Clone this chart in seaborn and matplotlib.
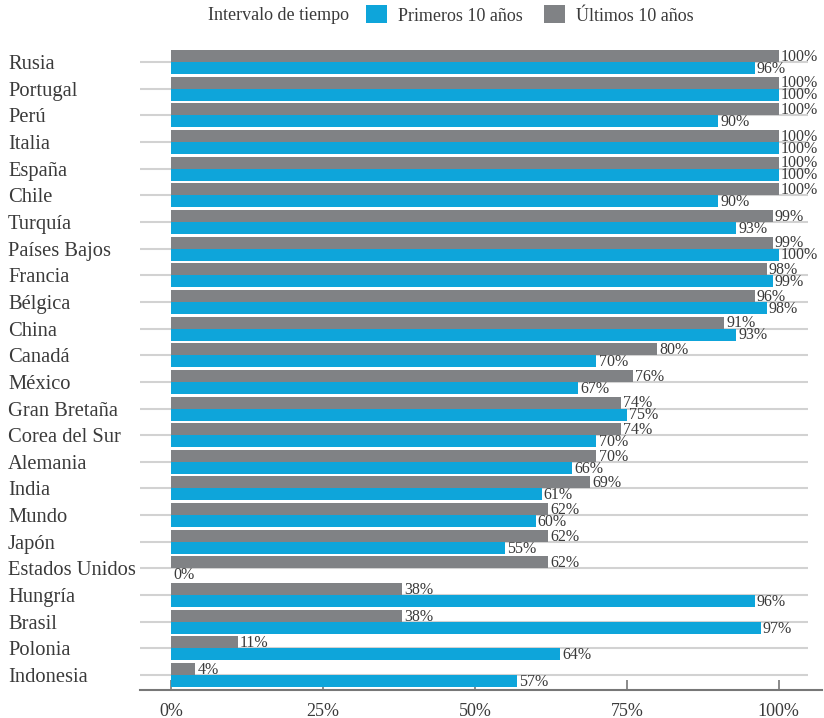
import matplotlib
matplotlib.use("Agg")
import matplotlib.pyplot as plt
import seaborn as sns
import pandas as pd
import numpy as np
from matplotlib.patches import Patch

countries = ["Rusia", "Portugal", "Perú", "Italia", "España", "Chile", "Turquía",
             "Países Bajos", "Francia", "Bélgica", "China", "Canadá", "México",
             "Gran Bretaña", "Corea del Sur", "Alemania", "India", "Mundo", "Japón",
             "Estados Unidos", "Hungría", "Brasil", "Polonia", "Indonesia"]
ultimos = [100, 100, 100, 100, 100, 100, 99, 99, 98, 96, 91, 80, 76, 74, 74, 70,
           69, 62, 62, 62, 38, 38, 11, 4]
primeros = [96, 100, 90, 100, 100, 90, 93, 100, 99, 98, 93, 70, 67, 75, 70, 66,
            61, 60, 55, 0, 96, 97, 64, 57]
x_ticks = [0, 25, 50, 75, 100]
x_tick_labels = ["0%", "25%", "50%", "75%", "100%"]
legend_title = "Intervalo de tiempo"
serie_p = "Primeros 10 años"
serie_u = "Últimos 10 años"

BLUE = "#0ea5da"
GRAY = "#808285"
TXT = "#3a3a3a"

df = pd.DataFrame({
    "pais": countries * 2,
    "valor": ultimos + primeros,
    "serie": [serie_u] * len(countries) + [serie_p] * len(countries),
})

sns.set_theme(style="white")
plt.rcParams["font.family"] = ["Liberation Serif", "DejaVu Serif"]

fig = plt.figure(figsize=(8.24, 7.18), dpi=100)
ax = fig.add_axes([140 / 824, 28 / 718, (822 - 140) / 824, (690 - 48.7) / 718])

sns.barplot(data=df, y="pais", x="valor", hue="serie", order=countries,
            hue_order=[serie_u, serie_p], palette={serie_u: GRAY, serie_p: BLUE},
            orient="h", width=0.9, ax=ax, legend=False, saturation=1,
            linewidth=0, zorder=2)

n = len(countries)
ax.set_ylim(n - 1 + 0.56, -0.5)
ax.set_xlim(-5.1, 107.1)
ax.hlines(np.arange(n), -5.1, 104.8, color="#d2d2d2", lw=1.5, zorder=1)

for cont in ax.containers:
    for p in cont:
        w = p.get_width()
        ybot = p.get_y() + p.get_height()
        ax.annotate(f"{w:.0f}%", (w, ybot), xytext=(1.5, -2.0),
                    textcoords="offset points", ha="left", va="bottom",
                    fontsize=11.5, color=TXT, zorder=3)

ax.set_xlabel("")
ax.set_ylabel("")
ax.set_xticks(x_ticks)
ax.set_xticklabels(x_tick_labels, fontsize=13, color=TXT)
ax.tick_params(axis="x", direction="in", length=7, width=1.2, color="#777777", pad=9,
               bottom=True)
ax.set_yticks(np.arange(n))
ax.set_yticklabels(countries, fontsize=14.8, color=TXT, ha="left")
ax.tick_params(axis="y", length=0, pad=132 * 72 / 100)

for s in ["top", "right", "left"]:
    ax.spines[s].set_visible(False)
ax.spines["bottom"].set_color("#777777")
ax.spines["bottom"].set_linewidth(1.5)

fig.text(349 / 824, 1 - 15 / 718, legend_title, ha="right", va="center",
         fontsize=13, color=TXT)
handles = [Patch(facecolor=BLUE, edgecolor="none"), Patch(facecolor=GRAY, edgecolor="none")]
fig.legend(handles, [serie_p, serie_u], loc="center left",
           bbox_to_anchor=(366 / 824, 1 - 15 / 718), ncol=2, frameon=False,
           fontsize=13, handlelength=1.15, handleheight=1.15, handletextpad=0.6,
           columnspacing=1.2, borderpad=0, borderaxespad=0, labelcolor=TXT)

fig.savefig("out.png", dpi=100)
